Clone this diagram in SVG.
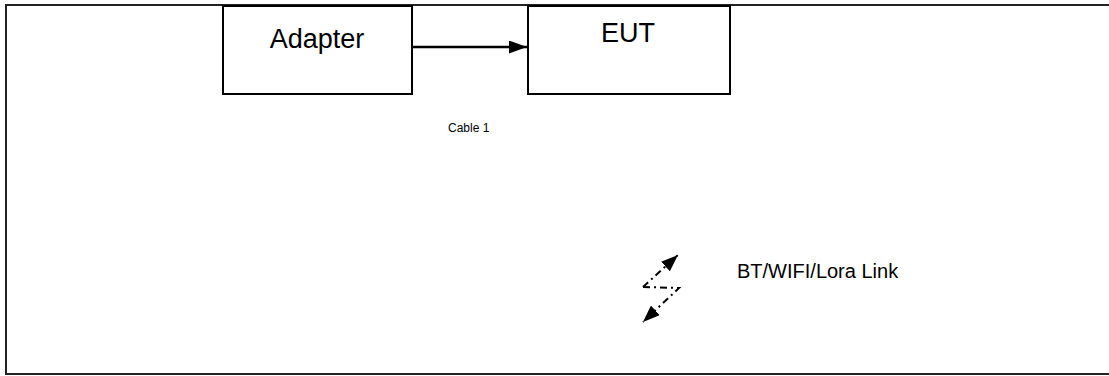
<svg xmlns="http://www.w3.org/2000/svg" width="1109" height="376" viewBox="0 0 1109 376">
<style>
.box{fill:#fff;stroke:#000;stroke-width:2}
.lbl{font-family:"Liberation Sans",Arial,sans-serif;fill:#000}
.dd{fill:none;stroke:#000;stroke-width:2;stroke-dasharray:7 4 2 4}
</style>
<defs>
<marker id="ah" viewBox="0 0 10 10" refX="10" refY="5" markerWidth="18" markerHeight="13" markerUnits="userSpaceOnUse" orient="auto" preserveAspectRatio="none">
<path d="M0,0 L10,5 L0,10 Z" fill="#000"/>
</marker>
<marker id="ah2" viewBox="0 0 10 10" refX="10" refY="5" markerWidth="17" markerHeight="13" orient="auto" markerUnits="userSpaceOnUse" preserveAspectRatio="none">
<path d="M0,0 L10,5 L0,10 Z" fill="#000"/>
</marker>
</defs>
<path d="M1109,5 H6 V374 H1109" fill="none" stroke="#222" stroke-width="2"/>
<g id="adapter">
<rect class="box" x="223" y="6" width="189" height="88"/>
<text class="lbl" x="317" y="48" font-size="27" text-anchor="middle">Adapter</text>
</g>
<g id="eut">
<rect class="box" x="528" y="6" width="202" height="88"/>
<text class="lbl" x="628" y="42" font-size="27" text-anchor="middle">EUT</text>
</g>
<g id="connectors">
<line x1="413" y1="47" x2="527" y2="47" stroke="#000" stroke-width="2.5" marker-end="url(#ah)"/>
<polyline class="dd" points="643,287 679,288 643,322" marker-end="url(#ah2)"/>
<polyline class="dd" points="643,287 678,255" marker-end="url(#ah2)"/>
</g>
<text class="lbl" x="448" y="132" font-size="12">Cable 1</text>
<text class="lbl" x="737" y="278" font-size="20">BT/WIFI/Lora Link</text>
</svg>
